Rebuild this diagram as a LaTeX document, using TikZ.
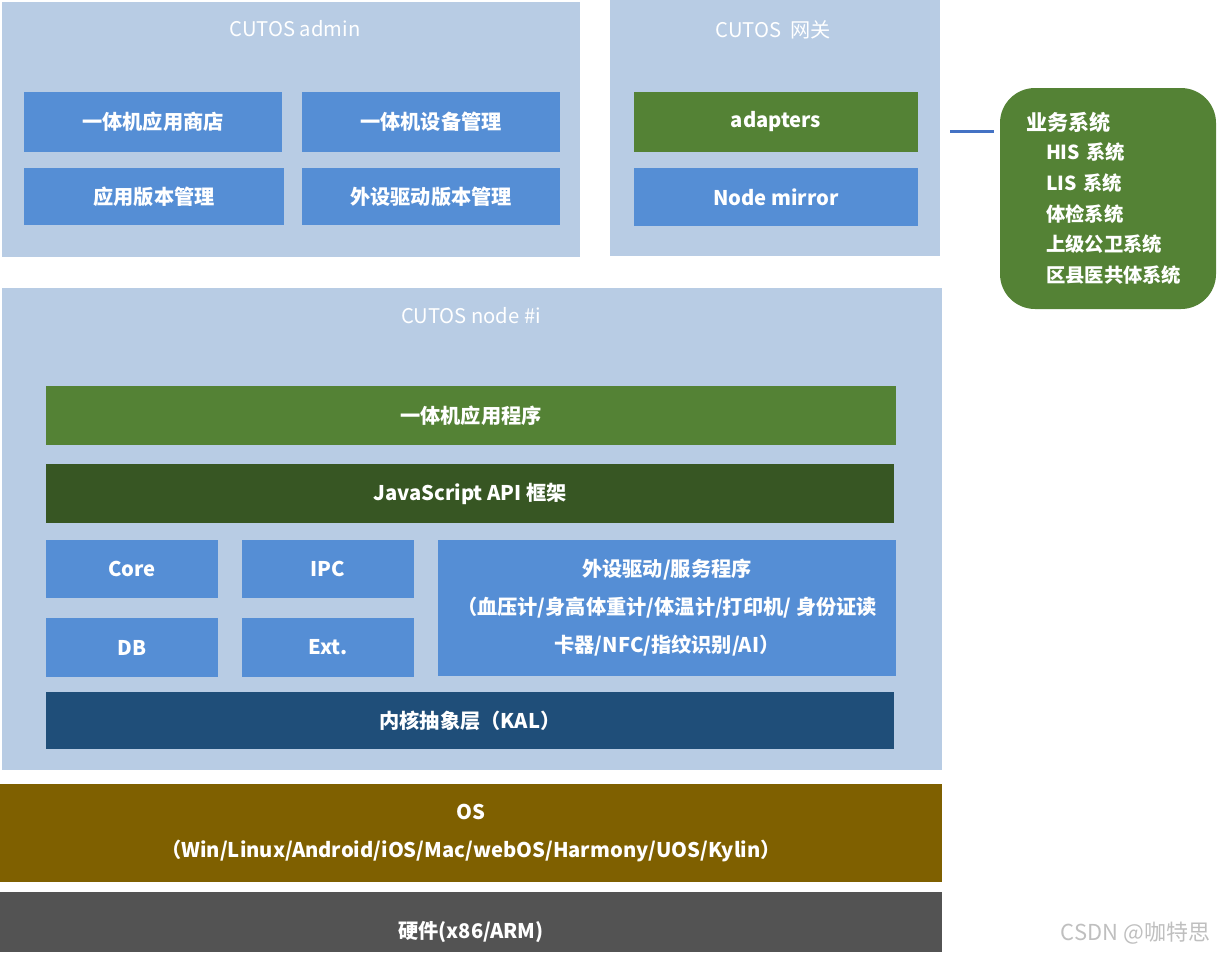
\documentclass[tikz,border=0pt]{standalone}
\usepackage{fontspec}
\setmainfont{Noto Sans CJK SC}
\definecolor{panelblue}{HTML}{B8CCE4}
\definecolor{boxblue}{HTML}{558ED5}
\definecolor{boxgreen}{HTML}{548235}
\definecolor{darkgreen}{HTML}{375623}
\definecolor{kalblue}{HTML}{1F4E79}
\definecolor{osbrown}{HTML}{7F6000}
\definecolor{hwgray}{HTML}{535353}
\definecolor{linkblue}{HTML}{4472C4}
\begin{document}
\begin{tikzpicture}[
    sz/.style 2 args={minimum width=#1cm, minimum height=#2cm},
    panel/.style={rectangle, fill=panelblue, inner sep=0pt},
    ttl/.style={text=white, font=\fontsize{11.5}{14}\selectfont},
    blk/.style={rectangle, fill=boxblue, inner sep=0pt, text=white,
                font=\bfseries\fontsize{11.5}{14}\selectfont},
    link/.style={draw=linkblue, line width=1.7pt}
  ]
    \useasboundingbox (0,0) rectangle (24.36,-19.04);

    % CUTOS admin
    \node[panel, sz={11.56}{5.10}] (admin) at (5.82,-2.59) {};
    \node[ttl] (admintl) at (5.9,-0.58) {CUTOS admin};
    \node[blk, sz={5.16}{1.2}] (store) at (3.06,-2.44) {一体机应用商店};
    \node[blk, sz={5.16}{1.2}] (devmgr) at (8.62,-2.44) {一体机设备管理};
    \node[blk, sz={5.2}{1.14}] (appver) at (3.08,-3.93) {应用版本管理};
    \node[blk, sz={5.16}{1.14}] (drvver) at (8.62,-3.93) {外设驱动版本管理};

    % CUTOS gateway
    \node[panel, sz={6.6}{5.12}] (gw) at (15.5,-2.56) {};
    \node[ttl] (gwtl) at (15.46,-0.6) {CUTOS\ \ 网关};
    \node[blk, fill=boxgreen, sz={5.68}{1.2}] (adapters) at (15.52,-2.44) {adapters};
    \node[blk, sz={5.68}{1.16}] (mirror) at (15.52,-3.94) {Node mirror};

    % business systems
    \node[blk, fill=boxgreen, rounded corners=0.7cm, sz={4.32}{4.42},
          align=left, text width=3.28cm,
          font=\bfseries\fontsize{11}{17.6}\selectfont] (biz) at (22.16,-3.97)
      {{\fontsize{12}{17.6}\selectfont 业务系统}\\[-1.2pt]
       \hspace*{0.4cm}HIS 系统\\
       \hspace*{0.4cm}LIS 系统\\
       \hspace*{0.4cm}体检系统\\
       \hspace*{0.4cm}上级公卫系统\\
       \hspace*{0.4cm}区县医共体系统};
    \coordinate (lk) at (19.0,-2.62);
    \draw[link] (lk) -- ([xshift=-0.12cm]lk -| biz.west);

    % CUTOS node #i
    \node[panel, sz={18.8}{9.64}] (cnode) at (9.44,-10.58) {};
    \node[ttl] (cnodetl) at (9.42,-6.32) {CUTOS node \#i};
    \node[blk, fill=boxgreen, sz={17.0}{1.18}] (app) at (9.42,-8.31) {一体机应用程序};
    \node[blk, fill=darkgreen, sz={16.96}{1.18}] (jsapi) at (9.4,-9.87) {JavaScript API 框架};
    \node[blk, sz={3.44}{1.16}] (core) at (2.64,-11.38) {Core};
    \node[blk, sz={3.44}{1.16}] (ipc) at (6.56,-11.38) {IPC};
    \node[blk, sz={3.44}{1.18}] (db) at (2.64,-12.95) {DB};
    \node[blk, sz={3.44}{1.18}] (ext) at (6.56,-12.95) {Ext.};
    \node[blk, sz={9.16}{2.72}, align=center,
          font=\bfseries\fontsize{11.5}{21.6}\selectfont] (drv) at (13.34,-12.16)
      {外设驱动/服务程序\\（血压计/身高体重计/体温计/打印机/ 身份证读\\卡器/NFC/指纹识别/AI）};
    \node[blk, fill=kalblue, sz={16.96}{1.14}] (kal) at (9.4,-14.41) {内核抽象层（KAL）};

    % OS and hardware
    \node[blk, fill=osbrown, sz={18.84}{1.96}, align=center,
          font=\bfseries\fontsize{11.5}{21.6}\selectfont] (os) at (9.42,-16.66)
      {OS\\（Win/Linux/Android/iOS/Mac/webOS/Harmony/UOS/Kylin）};
    \node[blk, fill=hwgray, sz={18.84}{1.2}] (hw) at (9.42,-18.44) {};
    \node[text=white, font=\bfseries\fontsize{11.5}{14}\selectfont] (hwtx) at (9.42,-18.64) {硬件(x86/ARM)};

%    watermark
    \node[text=black!25, font=\fontsize{12.5}{14}\selectfont] (wm) at (22.71,-18.66) {CSDN @咖特思};
\end{tikzpicture}
\end{document}
